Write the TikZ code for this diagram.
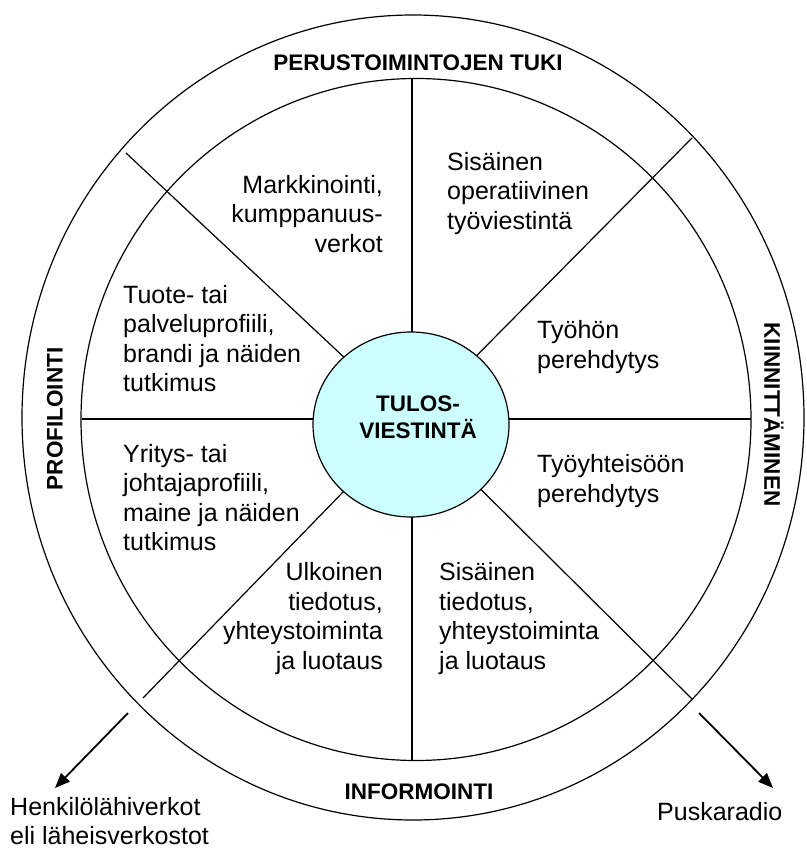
\documentclass[tikz,border=0pt]{standalone}
\usepackage{fontspec}
\setmainfont{Liberation Sans}
\usetikzlibrary{shapes.geometric,arrows.meta}
\definecolor{hubfill}{RGB}{204,255,255}
\begin{document}
\begin{tikzpicture}[x=1pt,y=-1pt,
  body/.style={inner sep=0pt,font=\fontsize{25}{29.5}\selectfont},
  lbl/.style={inner sep=0pt,font=\fontsize{22.5}{27}\selectfont\bfseries},
  ring/.style={draw=black,line width=1.2pt},
  spoke/.style={draw=black,line width=1.2pt},
  hubstyle/.style={ellipse,draw=black,line width=1.2pt,fill=hubfill,minimum width=196pt,minimum height=185pt,inner sep=0pt},
  outarrow/.style={draw=black,line width=1.8pt,-{Triangle[length=15pt,width=12pt]}}
]
\useasboundingbox (0,0) rectangle (806,851);
% rings
\draw[ring] (413,417.5) ellipse [x radius=391, y radius=402.5];
\draw[ring] (416,419.5) ellipse [x radius=335, y radius=341];
% hub centre and spoke ends
\coordinate (c) at (412,421);
\coordinate (itop) at (412,79);
\coordinate (ibot) at (412,760);
\coordinate (ileft) at (81.5,419);
\coordinate (iright) at (751,419);
\coordinate (ul) at (126,153);
\coordinate (ur) at (692,138);
\coordinate (ll) at (143,698);
\coordinate (lr) at (692,699);
\draw[spoke] (itop) -- (ibot);
\draw[spoke] (ileft) -- (iright);
\draw[spoke] (c) -- (ul);
\draw[spoke] (c) -- (ur);
\draw[spoke] (c) -- (ll);
\draw[spoke] (c) -- (lr);
% hub
\node[hubstyle] (hub) at (411,424.5) {};
\node[lbl,align=center] (hubtxt) at (418,417.5) {TULOS-\\VIESTINTÄ};
% ring labels
\node[lbl] (ptuki) at (418,63) {PERUSTOIMINTOJEN TUKI};
\node[lbl] (inform) at (419,792) {INFORMOINTI};
\node[lbl,rotate=90] (profil) at (55,419) {PROFILOINTI};
\node[lbl,rotate=-90] (kiinn) at (774,414.5) {KIINNITTÄMINEN};
% sector texts
\node[body,align=right,anchor=east] (t1) at (383,214) {Markkinointi,\\kumppanuus-\\verkot};
\node[body,align=left,anchor=west] (t2) at (447,193.5) {Sisäinen\\operatiivinen\\työviestintä};
\node[body,align=left,anchor=west] (t3) at (123,338.5) {Tuote- tai\\palveluprofiili,\\brandi ja näiden\\tutkimus};
\node[body,align=left,anchor=west] (t4) at (537,347) {Työhön\\perehdytys};
\node[body,align=left,anchor=west] (t5) at (123,497.5) {Yritys- tai\\johtajaprofiili,\\maine ja näiden\\tutkimus};
\node[body,align=left,anchor=west] (t6) at (537,481) {Työyhteisöön\\perehdytys};
\node[body,align=right,anchor=east] (t7) at (383,618.5) {Ulkoinen\\tiedotus,\\yhteystoiminta\\ja luotaus};
\node[body,align=left,anchor=west] (t8) at (439,618.5) {Sisäinen\\tiedotus,\\yhteystoiminta\\ja luotaus};
% outside
\node[body,align=left,anchor=west,font=\fontsize{25}{29}\selectfont] (henk) at (10,821) {Henkilölähiverkot\\eli läheisverkostot};
\node[body,anchor=west] (pusk) at (657,812) {Puskaradio};
\coordinate (a1s) at (128,713);
\coordinate (a1e) at (55,788);
\coordinate (a2s) at (699,713);
\coordinate (a2e) at (773,788);
\draw[outarrow] (a1s) -- (a1e);
\draw[outarrow] (a2s) -- (a2e);
\end{tikzpicture}
\end{document}
